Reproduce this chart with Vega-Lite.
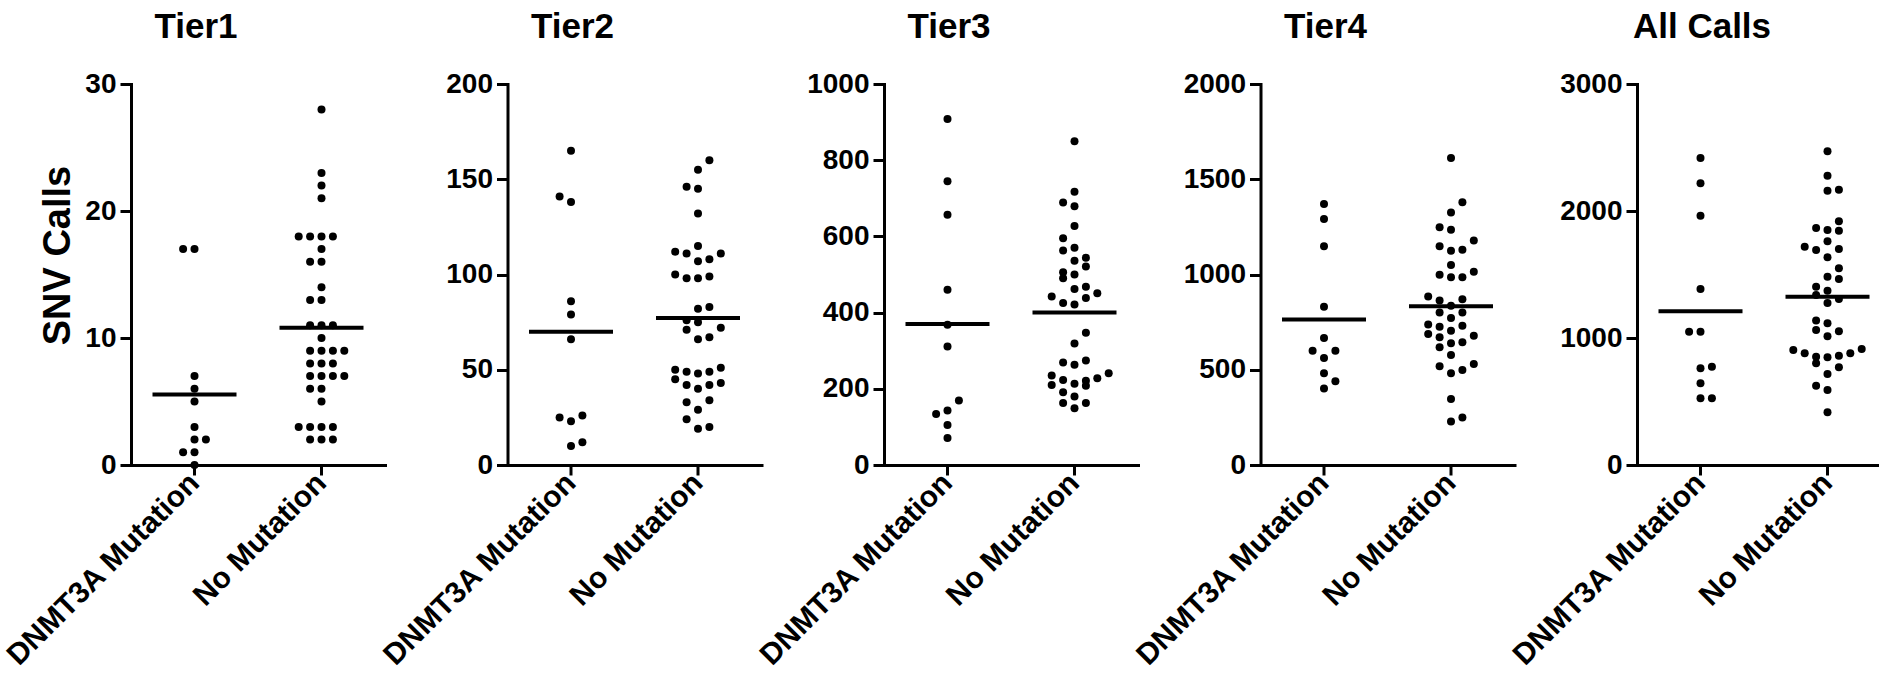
{
"$schema":"https://vega.github.io/schema/vega-lite/v6.json",
"padding":{"left":0,"top":10,"right":0,"bottom":0},
"background":"white",
"bounds":"flush",
"spacing":122.5,
"datasets":{
"pts":[
{"tier":"Tier1","group":"DNMT3A Mutation","value":17,"slot":-1},{"tier":"Tier1","group":"DNMT3A Mutation","value":17,"slot":0},{"tier":"Tier1","group":"DNMT3A Mutation","value":7,"slot":0},{"tier":"Tier1","group":"DNMT3A Mutation","value":6,"slot":0},{"tier":"Tier1","group":"DNMT3A Mutation","value":5,"slot":0},{"tier":"Tier1","group":"DNMT3A Mutation","value":3,"slot":0},{"tier":"Tier1","group":"DNMT3A Mutation","value":2,"slot":0},{"tier":"Tier1","group":"DNMT3A Mutation","value":2,"slot":1},{"tier":"Tier1","group":"DNMT3A Mutation","value":1,"slot":-1},{"tier":"Tier1","group":"DNMT3A Mutation","value":1,"slot":0},{"tier":"Tier1","group":"DNMT3A Mutation","value":0,"slot":0},
{"tier":"Tier1","group":"No Mutation","value":28,"slot":0},{"tier":"Tier1","group":"No Mutation","value":23,"slot":0},{"tier":"Tier1","group":"No Mutation","value":22,"slot":0},{"tier":"Tier1","group":"No Mutation","value":21,"slot":0},{"tier":"Tier1","group":"No Mutation","value":18,"slot":-2},{"tier":"Tier1","group":"No Mutation","value":18,"slot":-1},{"tier":"Tier1","group":"No Mutation","value":18,"slot":0},{"tier":"Tier1","group":"No Mutation","value":18,"slot":1},{"tier":"Tier1","group":"No Mutation","value":17,"slot":0},{"tier":"Tier1","group":"No Mutation","value":16,"slot":-1},{"tier":"Tier1","group":"No Mutation","value":16,"slot":0},{"tier":"Tier1","group":"No Mutation","value":14,"slot":0},{"tier":"Tier1","group":"No Mutation","value":13,"slot":-1},{"tier":"Tier1","group":"No Mutation","value":13,"slot":0},{"tier":"Tier1","group":"No Mutation","value":11,"slot":-1},{"tier":"Tier1","group":"No Mutation","value":11,"slot":0},{"tier":"Tier1","group":"No Mutation","value":11,"slot":1},{"tier":"Tier1","group":"No Mutation","value":10,"slot":0},{"tier":"Tier1","group":"No Mutation","value":9,"slot":-1},{"tier":"Tier1","group":"No Mutation","value":9,"slot":0},{"tier":"Tier1","group":"No Mutation","value":9,"slot":1},{"tier":"Tier1","group":"No Mutation","value":9,"slot":2},{"tier":"Tier1","group":"No Mutation","value":8,"slot":-1},{"tier":"Tier1","group":"No Mutation","value":8,"slot":0},{"tier":"Tier1","group":"No Mutation","value":8,"slot":1},{"tier":"Tier1","group":"No Mutation","value":7,"slot":-1},{"tier":"Tier1","group":"No Mutation","value":7,"slot":0},{"tier":"Tier1","group":"No Mutation","value":7,"slot":1},{"tier":"Tier1","group":"No Mutation","value":7,"slot":2},{"tier":"Tier1","group":"No Mutation","value":6,"slot":-1},{"tier":"Tier1","group":"No Mutation","value":6,"slot":0},{"tier":"Tier1","group":"No Mutation","value":5,"slot":0},{"tier":"Tier1","group":"No Mutation","value":3,"slot":-2},{"tier":"Tier1","group":"No Mutation","value":3,"slot":-1},{"tier":"Tier1","group":"No Mutation","value":3,"slot":0},{"tier":"Tier1","group":"No Mutation","value":3,"slot":1},{"tier":"Tier1","group":"No Mutation","value":2,"slot":-1},{"tier":"Tier1","group":"No Mutation","value":2,"slot":0},{"tier":"Tier1","group":"No Mutation","value":2,"slot":1},
{"tier":"Tier2","group":"DNMT3A Mutation","value":165,"slot":0},{"tier":"Tier2","group":"DNMT3A Mutation","value":141,"slot":-1},{"tier":"Tier2","group":"DNMT3A Mutation","value":138,"slot":0},{"tier":"Tier2","group":"DNMT3A Mutation","value":86,"slot":0},{"tier":"Tier2","group":"DNMT3A Mutation","value":79,"slot":0},{"tier":"Tier2","group":"DNMT3A Mutation","value":66,"slot":0},{"tier":"Tier2","group":"DNMT3A Mutation","value":25,"slot":-1},{"tier":"Tier2","group":"DNMT3A Mutation","value":23,"slot":0},{"tier":"Tier2","group":"DNMT3A Mutation","value":26,"slot":1},{"tier":"Tier2","group":"DNMT3A Mutation","value":10,"slot":0},{"tier":"Tier2","group":"DNMT3A Mutation","value":12,"slot":1},
{"tier":"Tier2","group":"No Mutation","value":160,"slot":1},{"tier":"Tier2","group":"No Mutation","value":155,"slot":0},{"tier":"Tier2","group":"No Mutation","value":146,"slot":-1},{"tier":"Tier2","group":"No Mutation","value":145,"slot":0},{"tier":"Tier2","group":"No Mutation","value":132,"slot":0},{"tier":"Tier2","group":"No Mutation","value":115,"slot":0},{"tier":"Tier2","group":"No Mutation","value":112,"slot":-2},{"tier":"Tier2","group":"No Mutation","value":111,"slot":-1},{"tier":"Tier2","group":"No Mutation","value":111,"slot":2},{"tier":"Tier2","group":"No Mutation","value":108,"slot":1},{"tier":"Tier2","group":"No Mutation","value":107,"slot":0},{"tier":"Tier2","group":"No Mutation","value":100,"slot":-2},{"tier":"Tier2","group":"No Mutation","value":98,"slot":-1},{"tier":"Tier2","group":"No Mutation","value":98,"slot":0},{"tier":"Tier2","group":"No Mutation","value":99,"slot":1},{"tier":"Tier2","group":"No Mutation","value":83,"slot":1},{"tier":"Tier2","group":"No Mutation","value":82,"slot":0},{"tier":"Tier2","group":"No Mutation","value":76,"slot":-1},{"tier":"Tier2","group":"No Mutation","value":75,"slot":0},{"tier":"Tier2","group":"No Mutation","value":71,"slot":-1},{"tier":"Tier2","group":"No Mutation","value":72,"slot":2},{"tier":"Tier2","group":"No Mutation","value":66,"slot":0},{"tier":"Tier2","group":"No Mutation","value":67,"slot":1},{"tier":"Tier2","group":"No Mutation","value":50,"slot":-2},{"tier":"Tier2","group":"No Mutation","value":49,"slot":-1},{"tier":"Tier2","group":"No Mutation","value":48,"slot":0},{"tier":"Tier2","group":"No Mutation","value":49,"slot":1},{"tier":"Tier2","group":"No Mutation","value":51,"slot":2},{"tier":"Tier2","group":"No Mutation","value":45,"slot":-2},{"tier":"Tier2","group":"No Mutation","value":42,"slot":-1},{"tier":"Tier2","group":"No Mutation","value":40,"slot":0},{"tier":"Tier2","group":"No Mutation","value":42,"slot":1},{"tier":"Tier2","group":"No Mutation","value":43,"slot":2},{"tier":"Tier2","group":"No Mutation","value":33,"slot":-1},{"tier":"Tier2","group":"No Mutation","value":34,"slot":1},{"tier":"Tier2","group":"No Mutation","value":29,"slot":0},{"tier":"Tier2","group":"No Mutation","value":24,"slot":-1},{"tier":"Tier2","group":"No Mutation","value":19,"slot":0},{"tier":"Tier2","group":"No Mutation","value":20,"slot":1},
{"tier":"Tier3","group":"DNMT3A Mutation","value":908,"slot":0},{"tier":"Tier3","group":"DNMT3A Mutation","value":745,"slot":0},{"tier":"Tier3","group":"DNMT3A Mutation","value":657,"slot":0},{"tier":"Tier3","group":"DNMT3A Mutation","value":460,"slot":0},{"tier":"Tier3","group":"DNMT3A Mutation","value":368,"slot":0},{"tier":"Tier3","group":"DNMT3A Mutation","value":311,"slot":0},{"tier":"Tier3","group":"DNMT3A Mutation","value":169,"slot":1},{"tier":"Tier3","group":"DNMT3A Mutation","value":143,"slot":0},{"tier":"Tier3","group":"DNMT3A Mutation","value":134,"slot":-1},{"tier":"Tier3","group":"DNMT3A Mutation","value":105,"slot":0},{"tier":"Tier3","group":"DNMT3A Mutation","value":71,"slot":0},
{"tier":"Tier3","group":"No Mutation","value":850,"slot":0},{"tier":"Tier3","group":"No Mutation","value":717,"slot":0},{"tier":"Tier3","group":"No Mutation","value":689,"slot":-1},{"tier":"Tier3","group":"No Mutation","value":679,"slot":0},{"tier":"Tier3","group":"No Mutation","value":627,"slot":0},{"tier":"Tier3","group":"No Mutation","value":595,"slot":-1},{"tier":"Tier3","group":"No Mutation","value":563,"slot":-1},{"tier":"Tier3","group":"No Mutation","value":570,"slot":0},{"tier":"Tier3","group":"No Mutation","value":536,"slot":0},{"tier":"Tier3","group":"No Mutation","value":544,"slot":1},{"tier":"Tier3","group":"No Mutation","value":521,"slot":1},{"tier":"Tier3","group":"No Mutation","value":506,"slot":-1},{"tier":"Tier3","group":"No Mutation","value":500,"slot":0},{"tier":"Tier3","group":"No Mutation","value":490,"slot":-1},{"tier":"Tier3","group":"No Mutation","value":462,"slot":0},{"tier":"Tier3","group":"No Mutation","value":468,"slot":1},{"tier":"Tier3","group":"No Mutation","value":442,"slot":-2},{"tier":"Tier3","group":"No Mutation","value":425,"slot":-1},{"tier":"Tier3","group":"No Mutation","value":421,"slot":0},{"tier":"Tier3","group":"No Mutation","value":438,"slot":1},{"tier":"Tier3","group":"No Mutation","value":451,"slot":2},{"tier":"Tier3","group":"No Mutation","value":347,"slot":1},{"tier":"Tier3","group":"No Mutation","value":319,"slot":0},{"tier":"Tier3","group":"No Mutation","value":269,"slot":-1},{"tier":"Tier3","group":"No Mutation","value":263,"slot":0},{"tier":"Tier3","group":"No Mutation","value":274,"slot":1},{"tier":"Tier3","group":"No Mutation","value":235,"slot":-2},{"tier":"Tier3","group":"No Mutation","value":223,"slot":-1},{"tier":"Tier3","group":"No Mutation","value":213,"slot":0},{"tier":"Tier3","group":"No Mutation","value":221,"slot":1},{"tier":"Tier3","group":"No Mutation","value":228,"slot":2},{"tier":"Tier3","group":"No Mutation","value":241,"slot":3},{"tier":"Tier3","group":"No Mutation","value":210,"slot":-2},{"tier":"Tier3","group":"No Mutation","value":208,"slot":1},{"tier":"Tier3","group":"No Mutation","value":191,"slot":-1},{"tier":"Tier3","group":"No Mutation","value":180,"slot":0},{"tier":"Tier3","group":"No Mutation","value":163,"slot":-1},{"tier":"Tier3","group":"No Mutation","value":163,"slot":1},{"tier":"Tier3","group":"No Mutation","value":149,"slot":0},
{"tier":"Tier4","group":"DNMT3A Mutation","value":1370,"slot":0},{"tier":"Tier4","group":"DNMT3A Mutation","value":1291,"slot":0},{"tier":"Tier4","group":"DNMT3A Mutation","value":1148,"slot":0},{"tier":"Tier4","group":"DNMT3A Mutation","value":831,"slot":0},{"tier":"Tier4","group":"DNMT3A Mutation","value":667,"slot":0},{"tier":"Tier4","group":"DNMT3A Mutation","value":600,"slot":-1},{"tier":"Tier4","group":"DNMT3A Mutation","value":600,"slot":1},{"tier":"Tier4","group":"DNMT3A Mutation","value":562,"slot":0},{"tier":"Tier4","group":"DNMT3A Mutation","value":481,"slot":0},{"tier":"Tier4","group":"DNMT3A Mutation","value":439,"slot":1},{"tier":"Tier4","group":"DNMT3A Mutation","value":402,"slot":0},
{"tier":"Tier4","group":"No Mutation","value":1612,"slot":0},{"tier":"Tier4","group":"No Mutation","value":1379,"slot":1},{"tier":"Tier4","group":"No Mutation","value":1326,"slot":0},{"tier":"Tier4","group":"No Mutation","value":1248,"slot":-1},{"tier":"Tier4","group":"No Mutation","value":1235,"slot":0},{"tier":"Tier4","group":"No Mutation","value":1178,"slot":2},{"tier":"Tier4","group":"No Mutation","value":1148,"slot":-1},{"tier":"Tier4","group":"No Mutation","value":1125,"slot":0},{"tier":"Tier4","group":"No Mutation","value":1130,"slot":1},{"tier":"Tier4","group":"No Mutation","value":1050,"slot":0},{"tier":"Tier4","group":"No Mutation","value":999,"slot":-1},{"tier":"Tier4","group":"No Mutation","value":985,"slot":0},{"tier":"Tier4","group":"No Mutation","value":985,"slot":1},{"tier":"Tier4","group":"No Mutation","value":1015,"slot":2},{"tier":"Tier4","group":"No Mutation","value":884,"slot":-2},{"tier":"Tier4","group":"No Mutation","value":863,"slot":-1},{"tier":"Tier4","group":"No Mutation","value":870,"slot":1},{"tier":"Tier4","group":"No Mutation","value":836,"slot":0},{"tier":"Tier4","group":"No Mutation","value":801,"slot":-1},{"tier":"Tier4","group":"No Mutation","value":801,"slot":1},{"tier":"Tier4","group":"No Mutation","value":772,"slot":0},{"tier":"Tier4","group":"No Mutation","value":737,"slot":-2},{"tier":"Tier4","group":"No Mutation","value":726,"slot":-1},{"tier":"Tier4","group":"No Mutation","value":731,"slot":1},{"tier":"Tier4","group":"No Mutation","value":705,"slot":0},{"tier":"Tier4","group":"No Mutation","value":688,"slot":-2},{"tier":"Tier4","group":"No Mutation","value":670,"slot":-1},{"tier":"Tier4","group":"No Mutation","value":679,"slot":2},{"tier":"Tier4","group":"No Mutation","value":639,"slot":0},{"tier":"Tier4","group":"No Mutation","value":644,"slot":1},{"tier":"Tier4","group":"No Mutation","value":618,"slot":-1},{"tier":"Tier4","group":"No Mutation","value":577,"slot":0},{"tier":"Tier4","group":"No Mutation","value":518,"slot":-1},{"tier":"Tier4","group":"No Mutation","value":481,"slot":0},{"tier":"Tier4","group":"No Mutation","value":499,"slot":1},{"tier":"Tier4","group":"No Mutation","value":530,"slot":2},{"tier":"Tier4","group":"No Mutation","value":347,"slot":0},{"tier":"Tier4","group":"No Mutation","value":228,"slot":0},{"tier":"Tier4","group":"No Mutation","value":250,"slot":1},
{"tier":"All Calls","group":"DNMT3A Mutation","value":2417,"slot":0},{"tier":"All Calls","group":"DNMT3A Mutation","value":2218,"slot":0},{"tier":"All Calls","group":"DNMT3A Mutation","value":1963,"slot":0},{"tier":"All Calls","group":"DNMT3A Mutation","value":1386,"slot":0},{"tier":"All Calls","group":"DNMT3A Mutation","value":1050,"slot":-1},{"tier":"All Calls","group":"DNMT3A Mutation","value":1050,"slot":0},{"tier":"All Calls","group":"DNMT3A Mutation","value":761,"slot":0},{"tier":"All Calls","group":"DNMT3A Mutation","value":774,"slot":1},{"tier":"All Calls","group":"DNMT3A Mutation","value":643,"slot":0},{"tier":"All Calls","group":"DNMT3A Mutation","value":525,"slot":0},{"tier":"All Calls","group":"DNMT3A Mutation","value":525,"slot":1},
{"tier":"All Calls","group":"No Mutation","value":2470,"slot":0},{"tier":"All Calls","group":"No Mutation","value":2278,"slot":0},{"tier":"All Calls","group":"No Mutation","value":2160,"slot":0},{"tier":"All Calls","group":"No Mutation","value":2168,"slot":1},{"tier":"All Calls","group":"No Mutation","value":1919,"slot":1},{"tier":"All Calls","group":"No Mutation","value":1866,"slot":-1},{"tier":"All Calls","group":"No Mutation","value":1850,"slot":0},{"tier":"All Calls","group":"No Mutation","value":1845,"slot":1},{"tier":"All Calls","group":"No Mutation","value":1761,"slot":0},{"tier":"All Calls","group":"No Mutation","value":1719,"slot":-2},{"tier":"All Calls","group":"No Mutation","value":1693,"slot":-1},{"tier":"All Calls","group":"No Mutation","value":1701,"slot":1},{"tier":"All Calls","group":"No Mutation","value":1635,"slot":0},{"tier":"All Calls","group":"No Mutation","value":1549,"slot":1},{"tier":"All Calls","group":"No Mutation","value":1483,"slot":0},{"tier":"All Calls","group":"No Mutation","value":1465,"slot":1},{"tier":"All Calls","group":"No Mutation","value":1404,"slot":-1},{"tier":"All Calls","group":"No Mutation","value":1373,"slot":0},{"tier":"All Calls","group":"No Mutation","value":1339,"slot":-1},{"tier":"All Calls","group":"No Mutation","value":1307,"slot":1},{"tier":"All Calls","group":"No Mutation","value":1276,"slot":0},{"tier":"All Calls","group":"No Mutation","value":1137,"slot":-1},{"tier":"All Calls","group":"No Mutation","value":1116,"slot":0},{"tier":"All Calls","group":"No Mutation","value":1063,"slot":-1},{"tier":"All Calls","group":"No Mutation","value":1053,"slot":1},{"tier":"All Calls","group":"No Mutation","value":1013,"slot":0},{"tier":"All Calls","group":"No Mutation","value":906,"slot":-3},{"tier":"All Calls","group":"No Mutation","value":879,"slot":-2},{"tier":"All Calls","group":"No Mutation","value":853,"slot":-1},{"tier":"All Calls","group":"No Mutation","value":801,"slot":-1},{"tier":"All Calls","group":"No Mutation","value":848,"slot":0},{"tier":"All Calls","group":"No Mutation","value":861,"slot":1},{"tier":"All Calls","group":"No Mutation","value":879,"slot":2},{"tier":"All Calls","group":"No Mutation","value":913,"slot":3},{"tier":"All Calls","group":"No Mutation","value":717,"slot":0},{"tier":"All Calls","group":"No Mutation","value":769,"slot":1},{"tier":"All Calls","group":"No Mutation","value":625,"slot":-1},{"tier":"All Calls","group":"No Mutation","value":591,"slot":0},{"tier":"All Calls","group":"No Mutation","value":415,"slot":0}
],
"means":[
{"tier":"Tier1","group":"DNMT3A Mutation","mean":5.55},{"tier":"Tier1","group":"No Mutation","mean":10.8},
{"tier":"Tier2","group":"DNMT3A Mutation","mean":70},{"tier":"Tier2","group":"No Mutation","mean":77.2},
{"tier":"Tier3","group":"DNMT3A Mutation","mean":370},{"tier":"Tier3","group":"No Mutation","mean":400},
{"tier":"Tier4","group":"DNMT3A Mutation","mean":764},{"tier":"Tier4","group":"No Mutation","mean":833},
{"tier":"All Calls","group":"DNMT3A Mutation","mean":1210},{"tier":"All Calls","group":"No Mutation","mean":1325}
]
},
"hconcat":[
{"width":254,"height":381,
 "title":{"text":"Tier1","frame":"group","anchor":"middle","dx":-62,"offset":-3,"baseline":"alphabetic"},
 "layer":[
  {"data":{"name":"pts"},"transform":[{"filter":"datum.tier === 'Tier1'"}],
   "mark":{"type":"circle","color":"black","opacity":1,"size":64},
   "encoding":{
    "x":{"field":"group","type":"nominal","scale":{"type":"band","domain":["DNMT3A Mutation","No Mutation"],"paddingInner":0,"paddingOuter":0},"axis":{"title":null,"labelAngle":-45,"labelFontSize":30,"tickSize":10,"labelPadding":3,"labelBaseline":"middle","labelLimit":500}},
    "xOffset":{"field":"slot","type":"quantitative","scale":{"domain":[-5.57,5.57]}},
    "y":{"field":"value","type":"quantitative","scale":{"domain":[0,30],"nice":false},"axis":{"values":[0,10,20,30],"format":"d","tickSize":11,"labelFontSize":28,"labelPadding":4,"title":"SNV Calls","titleFontSize":38,"titleX":-62,"titleY":171,"titleBaseline":"alphabetic","titleAlign":"center","titleAngle":-90}}}},
  {"data":{"name":"means"},"transform":[{"filter":"datum.tier === 'Tier1'"}],
   "mark":{"type":"tick","color":"black","thickness":4,"size":84,"opacity":1},
   "encoding":{"x":{"field":"group","type":"nominal"},"y":{"field":"mean","type":"quantitative"}}}
 ]},
{"width":254,"height":381,
 "title":{"text":"Tier2","frame":"group","anchor":"middle","dx":-62,"offset":-3,"baseline":"alphabetic"},
 "layer":[
  {"data":{"name":"pts"},"transform":[{"filter":"datum.tier === 'Tier2'"}],
   "mark":{"type":"circle","color":"black","opacity":1,"size":64},
   "encoding":{
    "x":{"field":"group","type":"nominal","scale":{"type":"band","domain":["DNMT3A Mutation","No Mutation"],"paddingInner":0,"paddingOuter":0},"axis":{"title":null,"labelAngle":-45,"labelFontSize":30,"tickSize":10,"labelPadding":3,"labelBaseline":"middle","labelLimit":500}},
    "xOffset":{"field":"slot","type":"quantitative","scale":{"domain":[-5.57,5.57]}},
    "y":{"field":"value","type":"quantitative","scale":{"domain":[0,200],"nice":false},"axis":{"values":[0,50,100,150,200],"format":"d","tickSize":11,"labelFontSize":28,"labelPadding":4,"title":null}}}},
  {"data":{"name":"means"},"transform":[{"filter":"datum.tier === 'Tier2'"}],
   "mark":{"type":"tick","color":"black","thickness":4,"size":84,"opacity":1},
   "encoding":{"x":{"field":"group","type":"nominal"},"y":{"field":"mean","type":"quantitative"}}}
 ]},
{"width":254,"height":381,
 "title":{"text":"Tier3","frame":"group","anchor":"middle","dx":-62,"offset":-3,"baseline":"alphabetic"},
 "layer":[
  {"data":{"name":"pts"},"transform":[{"filter":"datum.tier === 'Tier3'"}],
   "mark":{"type":"circle","color":"black","opacity":1,"size":64},
   "encoding":{
    "x":{"field":"group","type":"nominal","scale":{"type":"band","domain":["DNMT3A Mutation","No Mutation"],"paddingInner":0,"paddingOuter":0},"axis":{"title":null,"labelAngle":-45,"labelFontSize":30,"tickSize":10,"labelPadding":3,"labelBaseline":"middle","labelLimit":500}},
    "xOffset":{"field":"slot","type":"quantitative","scale":{"domain":[-5.57,5.57]}},
    "y":{"field":"value","type":"quantitative","scale":{"domain":[0,1000],"nice":false},"axis":{"values":[0,200,400,600,800,1000],"format":"d","tickSize":11,"labelFontSize":28,"labelPadding":4,"title":null}}}},
  {"data":{"name":"means"},"transform":[{"filter":"datum.tier === 'Tier3'"}],
   "mark":{"type":"tick","color":"black","thickness":4,"size":84,"opacity":1},
   "encoding":{"x":{"field":"group","type":"nominal"},"y":{"field":"mean","type":"quantitative"}}}
 ]},
{"width":254,"height":381,
 "title":{"text":"Tier4","frame":"group","anchor":"middle","dx":-62,"offset":-3,"baseline":"alphabetic"},
 "layer":[
  {"data":{"name":"pts"},"transform":[{"filter":"datum.tier === 'Tier4'"}],
   "mark":{"type":"circle","color":"black","opacity":1,"size":64},
   "encoding":{
    "x":{"field":"group","type":"nominal","scale":{"type":"band","domain":["DNMT3A Mutation","No Mutation"],"paddingInner":0,"paddingOuter":0},"axis":{"title":null,"labelAngle":-45,"labelFontSize":30,"tickSize":10,"labelPadding":3,"labelBaseline":"middle","labelLimit":500}},
    "xOffset":{"field":"slot","type":"quantitative","scale":{"domain":[-5.57,5.57]}},
    "y":{"field":"value","type":"quantitative","scale":{"domain":[0,2000],"nice":false},"axis":{"values":[0,500,1000,1500,2000],"format":"d","tickSize":11,"labelFontSize":28,"labelPadding":4,"title":null}}}},
  {"data":{"name":"means"},"transform":[{"filter":"datum.tier === 'Tier4'"}],
   "mark":{"type":"tick","color":"black","thickness":4,"size":84,"opacity":1},
   "encoding":{"x":{"field":"group","type":"nominal"},"y":{"field":"mean","type":"quantitative"}}}
 ]},
{"width":254,"height":381,
 "title":{"text":"All Calls","frame":"group","anchor":"middle","dx":-62,"offset":-3,"baseline":"alphabetic"},
 "layer":[
  {"data":{"name":"pts"},"transform":[{"filter":"datum.tier === 'All Calls'"}],
   "mark":{"type":"circle","color":"black","opacity":1,"size":64},
   "encoding":{
    "x":{"field":"group","type":"nominal","scale":{"type":"band","domain":["DNMT3A Mutation","No Mutation"],"paddingInner":0,"paddingOuter":0},"axis":{"title":null,"labelAngle":-45,"labelFontSize":30,"tickSize":10,"labelPadding":3,"labelBaseline":"middle","labelLimit":500}},
    "xOffset":{"field":"slot","type":"quantitative","scale":{"domain":[-5.57,5.57]}},
    "y":{"field":"value","type":"quantitative","scale":{"domain":[0,3000],"nice":false},"axis":{"values":[0,1000,2000,3000],"format":"d","tickSize":11,"labelFontSize":28,"labelPadding":4,"title":null}}}},
  {"data":{"name":"means"},"transform":[{"filter":"datum.tier === 'All Calls'"}],
   "mark":{"type":"tick","color":"black","thickness":4,"size":84,"opacity":1},
   "encoding":{"x":{"field":"group","type":"nominal"},"y":{"field":"mean","type":"quantitative"}}}
 ]}
],
"config":{
 "view":{"stroke":null},
 "axis":{"domainColor":"black","domainWidth":3,"tickColor":"black","tickWidth":3,"labelFont":"Liberation Sans","labelFontWeight":"bold","labelColor":"black","grid":false,"titleFont":"Liberation Sans","titleFontWeight":"bold","titleColor":"black","domainCap":"square"},
 "title":{"font":"Liberation Sans","fontWeight":"bold","fontSize":35,"color":"black"}
}
}
